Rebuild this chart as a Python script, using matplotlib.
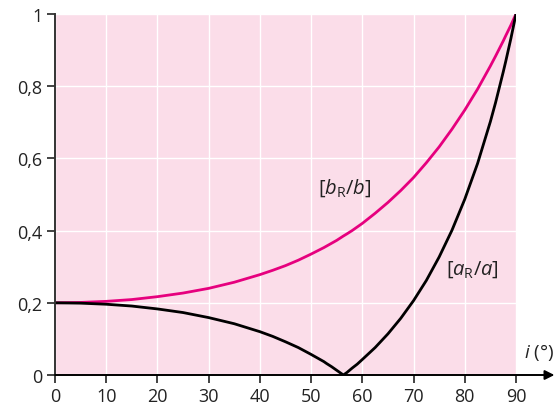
import numpy as np
import matplotlib
matplotlib.use("Agg")
import matplotlib.pyplot as plt

plt.rcParams["font.family"] = ["Open Sans", "DejaVu Sans"]
plt.rcParams["mathtext.fontset"] = "custom"
plt.rcParams["mathtext.rm"] = "Open Sans"
plt.rcParams["mathtext.it"] = "Open Sans:italic"

# incidence angle (degrees) and read-off values
angle = [0, 5, 10, 15, 20, 25, 30, 35, 40, 42.5, 45, 47.5, 50, 52.5, 53,
         54, 55, 56.3, 57, 58, 59, 60, 62.5, 65, 67.5, 70, 72.5, 75, 77.5,
         80, 82.5, 85, 86, 87.5, 88, 89, 90]
b_ratio = [0.200, 0.201, 0.204, 0.209, 0.217, 0.227, 0.240, 0.257, 0.278,
           0.290, 0.303, 0.318, 0.335, 0.353, 0.357, 0.365, 0.373, 0.385,
           0.391, 0.400, 0.410, 0.420, 0.448, 0.478, 0.511, 0.547, 0.588,
           0.632, 0.681, 0.734, 0.792, 0.856, 0.883, 0.925, 0.940, 0.969,
           1.0]
a_ratio = [0.200, 0.199, 0.196, 0.191, 0.183, 0.173, 0.159, 0.142, 0.120,
           0.107, 0.092, 0.076, 0.057, 0.037, 0.032, 0.023, 0.013, 0.0,
           0.007, 0.019, 0.030, 0.043, 0.076, 0.114, 0.157, 0.206, 0.262,
           0.327, 0.401, 0.487, 0.586, 0.702, 0.754, 0.839, 0.869, 0.932,
           1.0]
xticks = [0, 10, 20, 30, 40, 50, 60, 70, 80, 90]
yticks = [0, 0.2, 0.4, 0.6, 0.8, 1]
ylabels = ["0", "0,2", "0,4", "0,6", "0,8", "1"]

pink = "#fbdde9"
magenta = "#e6007e"

fig = plt.figure(figsize=(5.58, 4.10), dpi=100)
ax = fig.add_axes([55 / 558, 34 / 410, 461 / 558, 361 / 410])
ax.set_xlim(0, 90)
ax.set_ylim(0, 1)
ax.set_facecolor(pink)
ax.set_axisbelow(True)
ax.grid(True, color="white", lw=1.0)

ax.plot(angle, b_ratio, color=magenta, lw=2.0, solid_capstyle="round")
ax.plot(angle, a_ratio, color="black", lw=2.0, solid_capstyle="round")

ax.text(56.6, 0.52, r"$[b_{\mathrm{R}}/b]$", fontsize=14.5, ha="center",
        va="center", color="#222222")
ax.text(81.5, 0.295, r"$[a_{\mathrm{R}}/a]$", fontsize=14.5, ha="center",
        va="center", color="#222222")

ax.set_xticks(xticks)
ax.set_xticklabels([str(t) for t in xticks])
ax.set_yticks(yticks)
ax.set_yticklabels(ylabels)
ax.tick_params(labelsize=13, length=6, width=1.2, color="#222222",
               labelcolor="#222222", pad=3)

for side in ["top", "right"]:
    ax.spines[side].set_visible(False)
ax.spines["left"].set_color("#333333")
ax.spines["left"].set_linewidth(1.4)
ax.spines["bottom"].set_visible(False)

# x axis with arrow
ax.annotate("", xy=(97.5, 0), xytext=(0, 0), xycoords="data",
            annotation_clip=False,
            arrowprops=dict(arrowstyle="-|>", color="black", lw=1.4,
                            mutation_scale=14, shrinkA=0, shrinkB=0))
ax.text(94.4, 0.066, r"$i$ (°)", fontsize=13.5, ha="center", va="center",
        color="#222222", clip_on=False)

fig.savefig("out.png", dpi=100)
